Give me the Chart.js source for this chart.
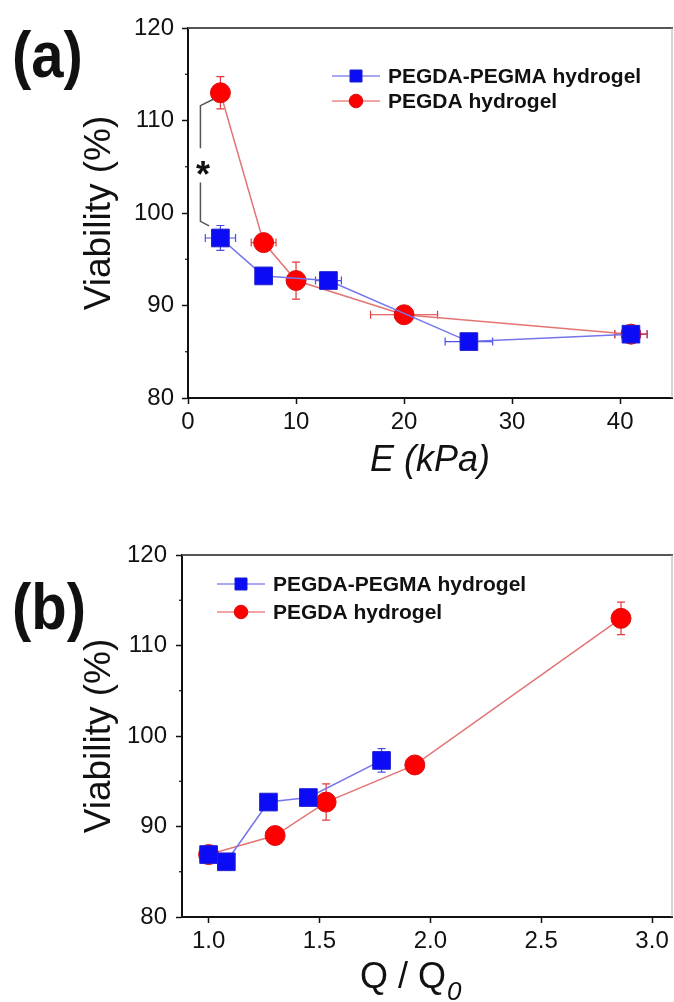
<!DOCTYPE html>
<html>
<head>
<meta charset="utf-8">
<script src="https://cdn.jsdelivr.net/npm/chart.js@4.4.0/dist/chart.umd.min.js"></script>
<style>
  body { margin: 0; background: #fff; width: 674px; height: 1002px; overflow: hidden; }
  .panel { position: absolute; left: 0; width: 674px; }
  #pa { top: 0; height: 500px; }
  #pb { top: 500px; height: 502px; }
  .tag { position: absolute; left: 12px; font: bold 58px Arial, "Liberation Sans", sans-serif; color: #111; line-height: 1; transform: scaleY(1.12); transform-origin: top left; }
</style>
</head>
<body>
<div class="panel" id="pa"><canvas id="chartA"></canvas><div class="tag" style="top:22px">(a)</div></div>
<div class="panel" id="pb"><canvas id="chartB"></canvas><div class="tag" style="top:74px">(b)</div></div>
<script>
// Panel (a): viabilidad frente al módulo E (kPa)
const eBlue = [3, 7, 13, 26, 41];
const vBlueA = [97.3, 93.2, 92.7, 86.1, 86.9];
const eBlueErr = [1.4, 0, 1.2, 2.2, 1.5];
const vBlueErrA = [1.35, 0, 0, 0, 0];

const eRed = [3, 7, 10, 20, 41];
const vRedA = [113.0, 96.8, 92.7, 89.0, 86.9];
const eRedErr = [0, 1.15, 0, 3.1, 1.5];
const vRedErrA = [1.75, 0, 2.0, 0, 0];

// Panel (b): viabilidad frente a Q / Q0
const qBlue = [1.0, 1.08, 1.27, 1.45, 1.78];
const vBlueB = [86.9, 86.1, 92.7, 93.2, 97.3];
const vBlueErrB = [0, 0, 0, 0, 1.3];

const qRed = [1.0, 1.30, 1.53, 1.93, 2.86];
const vRedB = [86.9, 89.0, 92.7, 96.8, 113.0];
const vRedErrB = [0, 0, 2.0, 0, 1.8];

// Ticks
const yTicks = [80, 90, 100, 110, 120];
const yMinor = [85, 95, 105, 115];
const xTicksA = [0, 10, 20, 30, 40];
const xTicksB = [1.0, 1.5, 2.0, 2.5, 3.0];

const seriesNames = ['PEGDA-PEGMA hydrogel', 'PEGDA hydrogel'];

const FONT = 'Arial, "Liberation Sans", sans-serif';
const INK = '#111';

function toPoints(xs, ys) {
  return xs.map((x, i) => ({ x: x, y: ys[i] }));
}

function blueSet(xs, ys, ex, ey) {
  return {
    label: seriesNames[0],
    data: toPoints(xs, ys),
    showLine: true,
    borderColor: '#7474ee',
    borderWidth: 1.5,
    pointStyle: 'rect',
    pointRadius: 12.5,
    pointHoverRadius: 12.5,
    pointBackgroundColor: '#0b0bf5',
    pointBorderColor: '#2020d0',
    pointBorderWidth: 1,
    errColor: '#4e4ee6',
    legendLine: '#a8a8f2',
    legendRadius: 8.5,
    errX: ex,
    errY: ey
  };
}

function redSet(xs, ys, ex, ey) {
  return {
    label: seriesNames[1],
    data: toPoints(xs, ys),
    showLine: true,
    borderColor: '#e47474',
    borderWidth: 1.5,
    pointStyle: 'circle',
    pointRadius: 10,
    pointHoverRadius: 10,
    pointBackgroundColor: '#ff0000',
    pointBorderColor: '#d81010',
    pointBorderWidth: 1,
    errColor: '#e23a3a',
    legendLine: '#f0a4a4',
    legendRadius: 6.8,
    errX: ex,
    errY: ey
  };
}

// barras de error, dibujadas con las escalas del gráfico
const errorBars = {
  id: 'errorBars',
  beforeDatasetsDraw(chart) {
    const { ctx, scales: { x, y } } = chart;
    const cap = 4;
    ctx.save();
    ctx.lineWidth = 1.2;
    chart.data.datasets.forEach(ds => {
      ctx.strokeStyle = ds.errColor;
      ds.data.forEach((p, i) => {
        const px = x.getPixelForValue(p.x);
        const py = y.getPixelForValue(p.y);
        const ex = ds.errX ? ds.errX[i] : 0;
        const ey = ds.errY ? ds.errY[i] : 0;
        ctx.beginPath();
        if (ey > 0) {
          const y1 = y.getPixelForValue(p.y + ey);
          const y2 = y.getPixelForValue(p.y - ey);
          ctx.moveTo(px, y1); ctx.lineTo(px, y2);
          ctx.moveTo(px - cap, y1); ctx.lineTo(px + cap, y1);
          ctx.moveTo(px - cap, y2); ctx.lineTo(px + cap, y2);
        }
        if (ex > 0) {
          const x1 = x.getPixelForValue(p.x - ex);
          const x2 = x.getPixelForValue(p.x + ex);
          ctx.moveTo(x1, py); ctx.lineTo(x2, py);
          ctx.moveTo(x1, py - cap); ctx.lineTo(x1, py + cap);
          ctx.moveTo(x2, py - cap); ctx.lineTo(x2, py + cap);
        }
        ctx.stroke();
      });
    });
    ctx.restore();
  }
};

// marco superior/derecho y marcas menores del eje y
const frame = {
  id: 'frame',
  afterDraw(chart) {
    const { ctx, chartArea: a, scales: { y } } = chart;
    ctx.save();
    ctx.strokeStyle = '#555';
    ctx.lineWidth = 2;
    ctx.beginPath();
    ctx.moveTo(a.left, a.top); ctx.lineTo(a.right + 1, a.top);
    ctx.stroke();
    ctx.strokeStyle = '#aaa';
    ctx.lineWidth = 1;
    ctx.beginPath();
    ctx.moveTo(a.right, a.top); ctx.lineTo(a.right, a.bottom);
    ctx.stroke();
    ctx.strokeStyle = INK;
    ctx.lineWidth = 1.2;
    yMinor.forEach(v => {
      const py = y.getPixelForValue(v);
      ctx.beginPath();
      ctx.moveTo(a.left - 3, py); ctx.lineTo(a.left, py);
      ctx.stroke();
    });
    ctx.restore();
  }
};

// leyenda con línea + marcador
const lineLegend = {
  id: 'lineLegend',
  afterDraw(chart, args, opts) {
    const { ctx } = chart;
    ctx.save();
    chart.data.datasets.forEach((ds, i) => {
      const yy = opts.rows[i];
      ctx.strokeStyle = ds.legendLine;
      ctx.lineWidth = 2;
      ctx.beginPath();
      ctx.moveTo(opts.x0, yy); ctx.lineTo(opts.x1, yy);
      ctx.stroke();
      ctx.fillStyle = ds.pointBackgroundColor;
      ctx.strokeStyle = ds.pointBorderColor;
      ctx.lineWidth = 1;
      Chart.helpers.drawPoint(ctx, { pointStyle: ds.pointStyle, radius: ds.legendRadius, borderWidth: 1 }, (opts.x0 + opts.x1) / 2, yy);
      ctx.fillStyle = INK;
      ctx.font = 'bold 21px ' + FONT;
      ctx.textBaseline = 'middle';
      ctx.fillText(ds.label, opts.tx, yy + 1);
    });
    ctx.restore();
  }
};

// corchete de significancia con asterisco (panel a)
const bracket = {
  id: 'bracket',
  afterDraw(chart, args, opts) {
    if (!opts.top) return;
    const { ctx, scales: { x, y } } = chart;
    const path = pts => {
      ctx.beginPath();
      pts.forEach((p, i) => {
        const px = x.getPixelForValue(p[0]);
        const py = y.getPixelForValue(p[1]);
        if (i === 0) ctx.moveTo(px, py); else ctx.lineTo(px, py);
      });
      ctx.stroke();
    };
    ctx.save();
    ctx.strokeStyle = '#555';
    ctx.lineWidth = 1.5;
    path(opts.top);
    path(opts.bottom);
    ctx.fillStyle = INK;
    ctx.font = 'bold 36px ' + FONT;
    ctx.textAlign = 'center';
    ctx.textBaseline = 'alphabetic';
    ctx.fillText('*', x.getPixelForValue(opts.star[0]), y.getPixelForValue(opts.star[1]) + 20);
    ctx.restore();
  }
};

// título del eje x del panel b: Q / Q0 con subíndice
const qTitle = {
  id: 'qTitle',
  afterDraw(chart, args, opts) {
    if (!opts.show) return;
    const { ctx } = chart;
    ctx.save();
    ctx.fillStyle = INK;
    ctx.textBaseline = 'alphabetic';
    ctx.font = '36px ' + FONT;
    ctx.fillText('Q / Q', opts.x, opts.y);
    const w = ctx.measureText('Q / Q').width;
    ctx.font = 'italic 26px ' + FONT;
    ctx.fillText('0', opts.x + w + 1, opts.y + 12);
    ctx.restore();
  }
};

function scaleOpts(min, max, ticks, fmt, leftPad) {
  return {
    x: {
      type: 'linear',
      min: min,
      max: max,
      afterBuildTicks: s => { s.ticks = ticks.map(v => ({ value: v })); },
      afterFit: s => { s.height = leftPad.xh; s.paddingLeft = 0; s.paddingRight = 0; },
      grid: { display: true, drawOnChartArea: false, drawTicks: true, tickLength: 6, tickColor: INK, tickWidth: 1.5 },
      border: { display: true, color: INK, width: 2 },
      ticks: { color: INK, font: { family: FONT, size: 24 }, padding: 4, maxRotation: 0, callback: fmt },
      title: leftPad.xTitle
    },
    y: {
      type: 'linear',
      min: 80,
      max: 120,
      afterBuildTicks: s => { s.ticks = yTicks.map(v => ({ value: v })); },
      afterFit: s => { s.width = leftPad.yw; s.paddingTop = 0; s.paddingBottom = 0; },
      grid: { display: true, drawOnChartArea: false, drawTicks: true, tickLength: 6, tickColor: INK, tickWidth: 1.5 },
      border: { display: true, color: INK, width: 2 },
      ticks: { color: INK, font: { family: FONT, size: 24 }, padding: leftPad.yPad },
      title: { display: true, text: 'Viability (%)', color: INK, font: { family: FONT, size: 37 }, padding: { top: 78, bottom: 0 } }
    }
  };
}

new Chart(document.getElementById('chartA'), {
  type: 'scatter',
  data: {
    datasets: [
      blueSet(eBlue, vBlueA, eBlueErr, vBlueErrA),
      redSet(eRed, vRedA, eRedErr, vRedErrA)
    ]
  },
  options: {
    responsive: true,
    maintainAspectRatio: false,
    animation: false,
    layout: { autoPadding: false, padding: { top: 28, right: 2, left: 0, bottom: 0 } },
    scales: scaleOpts(0, 44.8, xTicksA, v => String(v), {
      xh: 102, yw: 188, yPad: 8,
      xTitle: { display: true, text: 'E (kPa)', color: INK, font: { family: FONT, size: 36, style: 'italic' }, padding: { top: 0, bottom: 17 } }
    }),
    plugins: {
      legend: { display: false },
      tooltip: { enabled: false },
      lineLegend: { x0: 332, x1: 380, tx: 388, rows: [76, 101] },
      bracket: {
        top: [[2.35, 112.3], [1.15, 111.6], [1.15, 107.0]],
        bottom: [[1.15, 103.3], [1.15, 99.1], [1.95, 98.6]],
        star: [1.4, 105.0]
      }
    }
  },
  plugins: [errorBars, frame, lineLegend, bracket, qTitle]
});

new Chart(document.getElementById('chartB'), {
  type: 'scatter',
  data: {
    datasets: [
      blueSet(qBlue, vBlueB, null, vBlueErrB),
      redSet(qRed, vRedB, null, vRedErrB)
    ]
  },
  options: {
    responsive: true,
    maintainAspectRatio: false,
    animation: false,
    layout: { autoPadding: false, padding: { top: 55, right: 2, left: 0, bottom: 0 } },
    scales: scaleOpts(0.88, 3.09, xTicksB, v => v.toFixed(1), {
      xh: 85, yw: 182, yPad: 9,
      xTitle: { display: false }
    }),
    plugins: {
      legend: { display: false },
      tooltip: { enabled: false },
      lineLegend: { x0: 217, x1: 265, tx: 273, rows: [84, 112] },
      qTitle: { show: true, x: 360, y: 488 }
    }
  },
  plugins: [errorBars, frame, lineLegend, bracket, qTitle]
});
</script>
</body>
</html>
